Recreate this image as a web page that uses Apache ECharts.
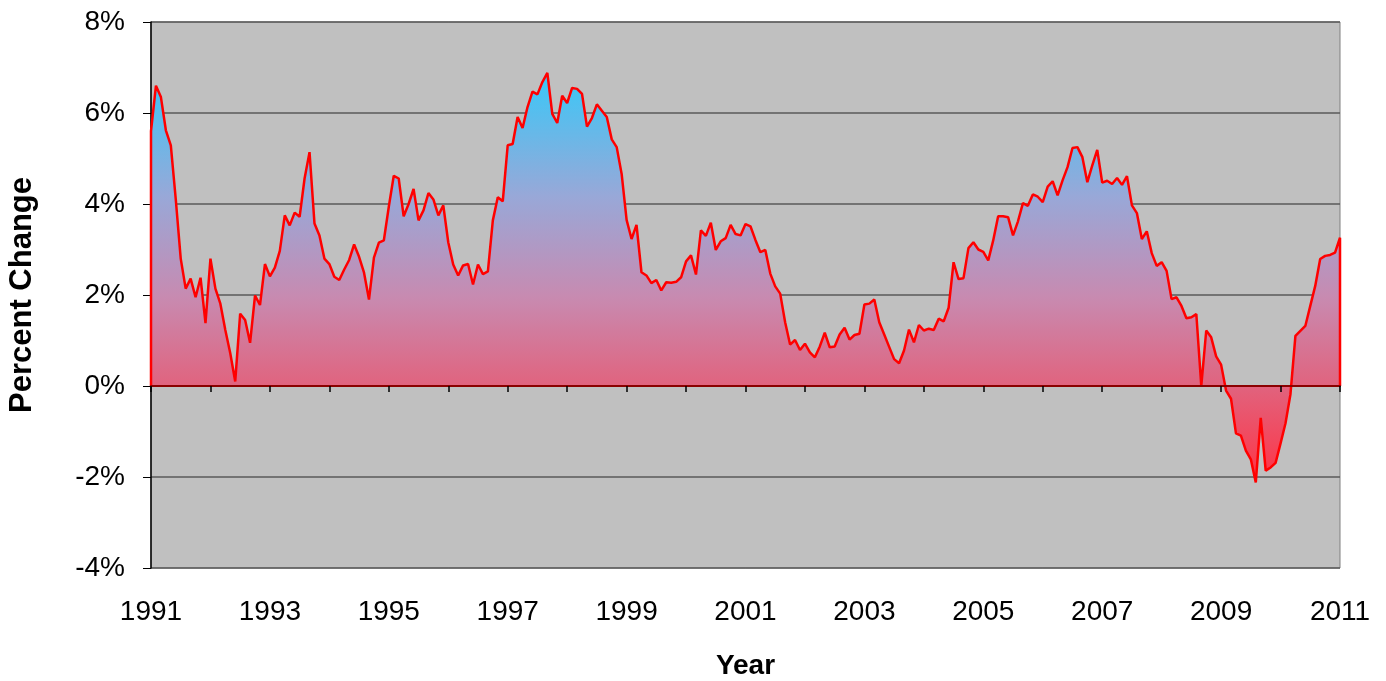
<!DOCTYPE html>
<html>
<head>
<meta charset="utf-8">
<title>Percent Change</title>
<script src="https://cdn.jsdelivr.net/npm/echarts@6/dist/echarts.min.js"></script>
<style>
html, body { margin: 0; background: #fff; }
#chart { width: 1386px; height: 681px; }
</style>
</head>
<body>
<div id="chart"></div>
<script>
// monthly percent change, Jan..Dec of each year
const v1991 = [5.6, 6.6, 6.35, 5.62, 5.29, 4.1, 2.8, 2.14, 2.36, 1.95, 2.38, 1.38]
const v1992 = [2.8, 2.14, 1.81, 1.23, 0.72, 0.1, 1.59, 1.45, 0.95, 1.99, 1.78, 2.68]
const v1993 = [2.41, 2.6, 2.97, 3.75, 3.53, 3.81, 3.72, 4.56, 5.14, 3.57, 3.31, 2.8]
const v1994 = [2.68, 2.4, 2.33, 2.56, 2.77, 3.11, 2.84, 2.49, 1.9, 2.82, 3.15, 3.2]
const v1995 = [3.94, 4.62, 4.56, 3.73, 4.0, 4.33, 3.64, 3.86, 4.24, 4.1, 3.75, 3.97]
const v1996 = [3.16, 2.67, 2.43, 2.65, 2.68, 2.23, 2.67, 2.46, 2.52, 3.64, 4.15, 4.06]
const v1997 = [5.29, 5.32, 5.91, 5.67, 6.13, 6.47, 6.41, 6.68, 6.88, 5.98, 5.78, 6.38]
const v1998 = [6.22, 6.55, 6.53, 6.42, 5.7, 5.89, 6.19, 6.05, 5.91, 5.42, 5.25, 4.66]
const v1999 = [3.65, 3.23, 3.54, 2.5, 2.43, 2.26, 2.33, 2.1, 2.28, 2.27, 2.29, 2.39]
const v2000 = [2.74, 2.87, 2.45, 3.42, 3.3, 3.59, 2.99, 3.18, 3.25, 3.54, 3.34, 3.31]
const v2001 = [3.56, 3.51, 3.21, 2.94, 2.99, 2.47, 2.19, 2.03, 1.4, 0.91, 1.01, 0.79]
const v2002 = [0.93, 0.74, 0.63, 0.87, 1.17, 0.85, 0.87, 1.13, 1.28, 1.02, 1.12, 1.15]
const v2003 = [1.79, 1.81, 1.9, 1.4, 1.13, 0.86, 0.59, 0.5, 0.78, 1.24, 0.96, 1.34]
const v2004 = [1.22, 1.26, 1.23, 1.48, 1.42, 1.72, 2.72, 2.35, 2.37, 3.03, 3.16, 3.0]
const v2005 = [2.95, 2.76, 3.2, 3.73, 3.73, 3.71, 3.31, 3.62, 4.02, 3.96, 4.21, 4.16]
const v2006 = [4.04, 4.38, 4.5, 4.19, 4.52, 4.81, 5.23, 5.25, 5.03, 4.48, 4.85, 5.19]
const v2007 = [4.47, 4.51, 4.44, 4.57, 4.42, 4.61, 3.97, 3.8, 3.23, 3.4, 2.92, 2.64]
const v2008 = [2.72, 2.53, 1.91, 1.95, 1.76, 1.49, 1.51, 1.58, 0.0, 1.22, 1.07, 0.65]
const v2009 = [0.47, -0.1, -0.28, -1.04, -1.09, -1.42, -1.61, -2.12, -0.7, -1.86, -1.79, -1.69]
const v2010 = [-1.26, -0.82, -0.18, 1.1, 1.21, 1.32, 1.76, 2.2, 2.79, 2.86, 2.88, 2.93]
const v2011 = [3.26]

const startYear = 1991
const endYear = 2011

const values = [].concat(v1991, v1992, v1993, v1994, v1995, v1996, v1997, v1998,
  v1999, v2000, v2001, v2002, v2003, v2004, v2005, v2006, v2007, v2008, v2009,
  v2010, v2011)

// x = months since Jan 1991
const lastMonth = (endYear - startYear) * 12
const points = values.map((v, i) => [i, v])
// close the outline down to zero at both ends, like the original
const outline = [[0, 0]].concat(points, [[values.length - 1, 0]])

const font = "'Liberation Sans', Arial, sans-serif"

const chart = echarts.init(document.getElementById('chart'))
chart.setOption({
  animation: false,
  backgroundColor: '#fff',
  textStyle: { fontFamily: font },
  grid: {
    left: 151,
    right: 46,
    top: 22,
    bottom: 113,
    outerBoundsMode: 'none',
    show: true,
    backgroundColor: '#C0C0C0',
    borderColor: '#808080',
    borderWidth: 1
  },
  xAxis: [
    {
      // the year ticks sitting on the zero line
      type: 'value',
      min: 0,
      max: lastMonth,
      interval: 12,
      z: 5,
      axisLine: { onZero: true, lineStyle: { color: '#8B0000', width: 2 }},
      axisTick: { length: 6, lineStyle: { color: '#000', width: 1.5 }},
      axisLabel: { show: false },
      splitLine: { show: false }
    },
    {
      // year labels along the bottom
      type: 'value',
      position: 'bottom',
      min: 0,
      max: lastMonth,
      interval: 24,
      axisLine: { show: false, onZero: false },
      axisTick: { show: false },
      splitLine: { show: false },
      axisLabel: {
        margin: 30,
        fontSize: 28,
        color: '#000',
        fontFamily: font,
        formatter: v => String(startYear + v / 12)
      },
      name: 'Year',
      nameLocation: 'middle',
      nameGap: 84,
      nameTextStyle: { fontSize: 28, fontWeight: 'bold', color: '#000', fontFamily: font }
    }
  ],
  yAxis: {
    type: 'value',
    min: -4,
    max: 8,
    interval: 2,
    axisLine: { show: true, lineStyle: { color: '#000', width: 1.5 }},
    axisTick: { show: true, length: 8, lineStyle: { color: '#000' }},
    axisLabel: {
      margin: 26,
      fontSize: 28,
      color: '#000',
      fontFamily: font,
      formatter: '{value}%'
    },
    splitLine: { lineStyle: { color: '#5A5A5A', width: 1.5 }},
    name: 'Percent Change',
    nameLocation: 'middle',
    nameGap: 113,
    nameTextStyle: { fontSize: 31, fontWeight: 'bold', color: '#000', fontFamily: font }
  },
  series: [{
    type: 'line',
    xAxisIndex: 0,
    data: outline,
    showSymbol: false,
    symbol: 'none',
    lineStyle: { color: '#FF0000', width: 2.5 },
    areaStyle: {
      opacity: 1,
      color: new echarts.graphic.LinearGradient(0, 0, 0, 1, [
        { offset: 0, color: '#38C8F8' },
        { offset: 0.3, color: '#98A8D8' },
        { offset: 0.55, color: '#C88AB0' },
        { offset: 0.76, color: '#E0647F' },
        { offset: 1, color: '#FF3344' }
      ])
    }
  }]
})
</script>
</body>
</html>
